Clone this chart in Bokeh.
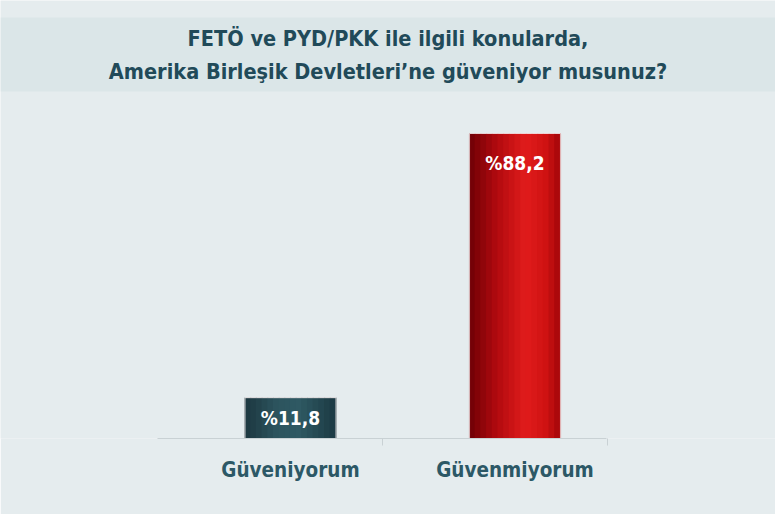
import numpy as np
from bokeh.plotting import figure
from bokeh.models import ColumnDataSource, Range1d, FixedTicker, BoxAnnotation, Label
from bokeh.transform import dodge
from bokeh.core.properties import value
from bokeh.embed import file_html
from bokeh.resources import INLINE

# ---- data ----
title_lines = ["FETÖ ve PYD/PKK ile ilgili konularda,",
               "Amerika Birleşik Devletleri’ne güveniyor musunuz?"]
categories = ["Güveniyorum", "Güvenmiyorum"]
values = [11.8, 88.2]
value_labels = ["%11,8", "%88,2"]

# ---- style ----
FONT = "DejaVu Sans Condensed, Roboto Condensed, Liberation Sans Narrow, Roboto"
BG = "#e5ecee"
BAND = "#dbe6e8"
TITLE_COLOR = "#214a59"
LABEL_COLOR = "#2c5866"
AXIS_COLOR = "#c9d1d4"
W, H = 775, 514
FRAME_BOTTOM_PX = 438          # canvas y of the baseline
X0_PX = 290                    # canvas x of the first category
X_UNIT_PX = 224.5              # pixels per category
Y_UNIT_PX = 3.458              # pixels per percent
BAR_W = 0.405
N_STRIPS = 16

teal_stops = [(0.0, "#1b363e"), (0.35, "#2c545e"), (0.6, "#2f5963"), (1.0, "#1c3a43")]
red_stops = [(0.0, "#6e0006"), (0.3, "#b00a0e"), (0.62, "#e11c1c"), (0.85, "#cf1212"), (1.0, "#a30609")]
bar_stops = [teal_stops, red_stops]


def hex2rgb(h):
    return np.array([int(h[i:i + 2], 16) for i in (1, 3, 5)], dtype=float)


def grad(stops, t):
    for (t0, c0), (t1, c1) in zip(stops[:-1], stops[1:]):
        if t0 <= t <= t1:
            f = (t - t0) / (t1 - t0)
            c = hex2rgb(c0) * (1 - f) + hex2rgb(c1) * f
            return "#%02x%02x%02x" % tuple(int(round(v)) for v in c)
    return stops[-1][1]


def px2x(px):
    return (px - X0_PX) / X_UNIT_PX


def px2y(py):
    return (FRAME_BOTTOM_PX - py) / Y_UNIT_PX


xs = np.arange(len(categories))
data = dict(x=xs, top=values, vlabel=value_labels, dy=[20, 29])
for k in range(N_STRIPS):
    tk = (k + 0.5) / N_STRIPS
    data["c%d" % k] = [grad(s, tk) for s in bar_stops]
src = ColumnDataSource(data)

p = figure(width=W, height=H,
           x_range=Range1d(px2x(0), px2x(W)), y_range=Range1d(0, px2y(0)),
           toolbar_location=None, output_backend="svg", y_axis_location=None,
           min_border_left=0, min_border_right=0, min_border_top=0,
           min_border_bottom=H - FRAME_BOTTOM_PX, outline_line_color=None,
           background_fill_color=BG, border_fill_color=BG)
p.grid.visible = False

# title band + title
p.add_layout(BoxAnnotation(bottom=px2y(91), top=px2y(17), fill_color=BAND,
                           fill_alpha=1, line_color=None))
p.add_layout(Label(x=px2x(W / 2), y=px2y(54), text="\n".join(title_lines),
                   text_align="center", text_baseline="middle",
                   text_font=FONT, text_font_style="bold", text_font_size="21.5px",
                   text_color=TITLE_COLOR, text_line_height=1.32))

# bars with horizontal gradient (vertical strips)
sw = BAR_W / N_STRIPS
for k in range(N_STRIPS):
    off = -BAR_W / 2 + (k + 0.5) * sw
    p.vbar(x=dodge("x", off), top="top", bottom=0, width=sw * 1.2,
           fill_color="c%d" % k, line_color=None, source=src)
p.vbar(x="x", top="top", bottom=0, width=BAR_W, fill_color=None,
       line_color="#f3e9ea", line_width=1, line_alpha=0.8, source=src)

p.text(x="x", y="top", text="vlabel", y_offset="dy", text_align="center",
       text_baseline="middle", text_color="white", text_font=value(FONT),
       text_font_style="bold", text_font_size="19px", source=src)

ax = p.xaxis[0]
ax.bounds = (px2x(157), px2x(606))
ax.ticker = FixedTicker(ticks=list(xs), minor_ticks=[float(i) + 0.41 for i in xs])
ax.major_label_overrides = {int(i): c for i, c in zip(xs, categories)}
ax.axis_line_color = AXIS_COLOR
ax.axis_line_width = 1
ax.major_tick_line_color = None
ax.major_tick_out = 0
ax.major_tick_in = 0
ax.minor_tick_line_color = AXIS_COLOR
ax.minor_tick_out = 7
ax.minor_tick_in = 0
ax.major_label_standoff = 12
ax.major_label_text_font = FONT
ax.major_label_text_font_style = "bold"
ax.major_label_text_font_size = "20.5px"
ax.major_label_text_color = LABEL_COLOR

open("out.html", "w").write(file_html(p, INLINE))
